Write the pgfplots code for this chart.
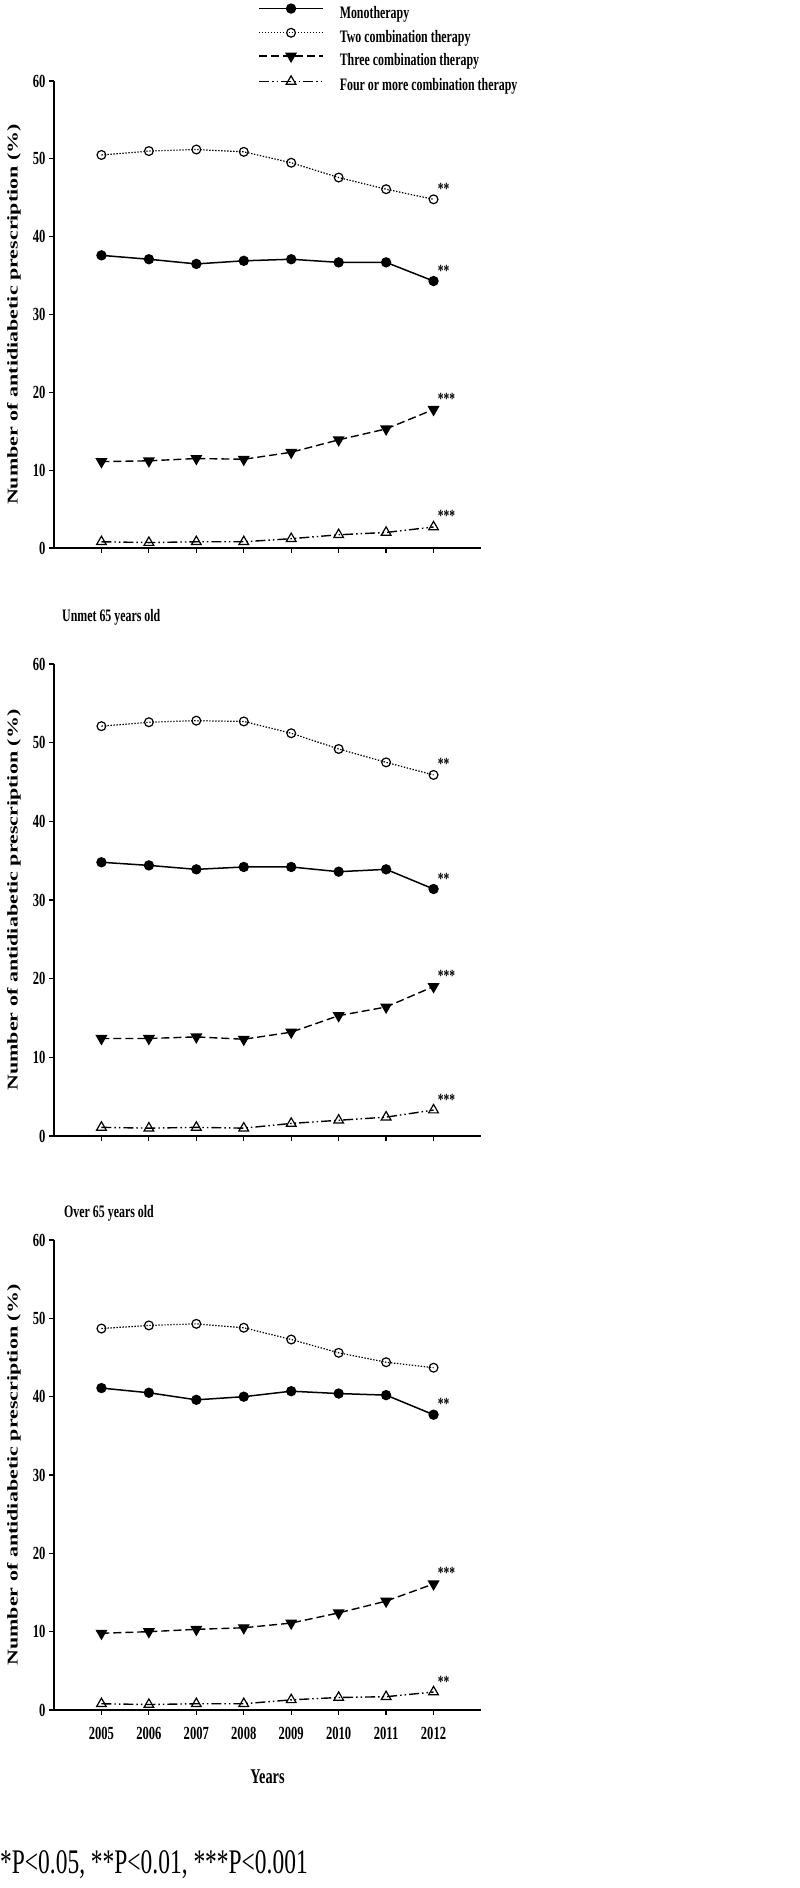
\documentclass[border=0pt]{standalone}
\usepackage{fontspec}
\setmainfont{Liberation Serif}[FakeStretch=0.68]
\newfontfamily\ylabfont{Liberation Serif}
\usepackage{pgfplots}
\pgfplotsset{compat=1.18}

\tikzset{sigstar/.style={anchor=base west, font=\fontsize{17}{17}\selectfont\bfseries, inner sep=0pt, xshift=4pt, yshift=5pt}}

\pgfplotsset{
  panel/.style={
    scale only axis, width=427pt,
    xmin=2004, xmax=2013, ymin=0, ymax=60,
    axis lines=left, axis line style={line width=1.3pt, -},
    xtick={2005,...,2012}, ytick={0,10,...,60},
    tick align=outside, major tick length=5pt,
    tick style={line width=1.2pt, black},
    /pgf/number format/assume math mode=true,
    /pgf/number format/1000 sep={},
    yticklabel style={font=\fontsize{18.5}{18.5}\selectfont\bfseries},
    xticklabel style={font=\fontsize{18.5}{18.5}\selectfont\bfseries, yshift=-9pt},
    ylabel={\scalebox{1}[0.68]{Number of antidiabetic prescription (\%)}},
    ylabel style={font=\ylabfont\bfseries\fontsize{22}{22}\selectfont,
      at={(axis description cs:-0.094,0.5)}, anchor=center},
    clip=false,
  },
  mono/.style={black, line width=1.5pt, solid, mark=*, mark size=4.4pt,
    mark options={solid, fill=black}},
  two/.style={black, line width=1.2pt, dash pattern=on 1.4pt off 1.6pt, mark=o, mark size=4.4pt,
    mark options={solid, fill=white, line width=1.2pt}},
  three/.style={black, line width=1.4pt, dash pattern=on 8pt off 4pt, mark=triangle*, mark size=5.6pt,
    mark options={solid, fill=black, rotate=180}},
  four/.style={black, line width=1.4pt, dash pattern=on 10pt off 3pt on 1.5pt off 3pt on 1.5pt off 3pt,
    mark=triangle, mark size=5.6pt, mark options={solid, fill=white, line width=1.2pt}},
}

\begin{document}
\begin{tikzpicture}
\path[use as bounding box] (0pt,-1888pt) rectangle (800pt,0pt);

% ---------- Panel 1 ----------
\begin{axis}[panel, at={(54pt,-548pt)}, anchor=south west, height=467pt,
  xticklabels={},
  legend style={at={(axis description cs:0.478,1.165)}, anchor=north west,
    draw=none, fill=none, inner sep=0pt, row sep=6.3pt,
    font=\fontsize{17.5}{17.5}\selectfont\bfseries,
    nodes={inner sep=0pt, text height=13pt, text depth=4pt},
    /tikz/every odd column/.append style={column sep=16pt}},
  legend cell align=left,
  legend image code/.code={\draw[mark repeat=2, mark phase=2] plot coordinates {(0pt,5pt) (32pt,5pt) (64pt,5pt)};},
]
\addplot[mono] coordinates {(2005,37.6) (2006,37.1) (2007,36.5) (2008,36.9) (2009,37.1) (2010,36.7) (2011,36.7) (2012,34.3)};
\addlegendentry{Monotherapy}
\addplot[two] coordinates {(2005,50.5) (2006,51.0) (2007,51.2) (2008,50.9) (2009,49.5) (2010,47.6) (2011,46.1) (2012,44.8)};
\addlegendentry{Two combination therapy}
\addplot[three] coordinates {(2005,11.1) (2006,11.2) (2007,11.5) (2008,11.4) (2009,12.3) (2010,13.9) (2011,15.3) (2012,17.8)};
\addlegendentry{Three combination therapy}
\addplot[four] coordinates {(2005,0.8) (2006,0.7) (2007,0.8) (2008,0.8) (2009,1.2) (2010,1.7) (2011,2.0) (2012,2.7)};
\addlegendentry{Four or more combination therapy}
\node[sigstar] at (axis cs:2012,44.8) {**};
\node[sigstar] at (axis cs:2012,34.3) {**};
\node[sigstar] at (axis cs:2012,17.8) {***};
\node[sigstar] at (axis cs:2012,2.7) {***};
\end{axis}

% ---------- Panel 2 ----------
\begin{axis}[panel, at={(54pt,-1136pt)}, anchor=south west, height=472pt,
  xticklabels={}]
\addplot[mono] coordinates {(2005,34.8) (2006,34.4) (2007,33.9) (2008,34.2) (2009,34.2) (2010,33.6) (2011,33.9) (2012,31.4)};
\addplot[two] coordinates {(2005,52.1) (2006,52.6) (2007,52.8) (2008,52.7) (2009,51.2) (2010,49.2) (2011,47.5) (2012,45.9)};
\addplot[three] coordinates {(2005,12.4) (2006,12.4) (2007,12.6) (2008,12.3) (2009,13.2) (2010,15.3) (2011,16.4) (2012,19.0)};
\addplot[four] coordinates {(2005,1.1) (2006,1.0) (2007,1.1) (2008,1.0) (2009,1.6) (2010,2.0) (2011,2.4) (2012,3.3)};
\node[sigstar] at (axis cs:2012,45.9) {**};
\node[sigstar] at (axis cs:2012,31.4) {**};
\node[sigstar] at (axis cs:2012,19.0) {***};
\node[sigstar] at (axis cs:2012,3.3) {***};
\end{axis}

% ---------- Panel 3 ----------
\begin{axis}[panel, at={(54pt,-1710pt)}, anchor=south west, height=470pt,
  xlabel={Years},
  xlabel style={font=\fontsize{21}{21}\selectfont\bfseries, at={(axis description cs:0.5,-0.1426)}, anchor=center}]
\addplot[mono] coordinates {(2005,41.1) (2006,40.5) (2007,39.6) (2008,40.0) (2009,40.7) (2010,40.4) (2011,40.2) (2012,37.7)};
\addplot[two] coordinates {(2005,48.7) (2006,49.1) (2007,49.3) (2008,48.8) (2009,47.3) (2010,45.6) (2011,44.4) (2012,43.7)};
\addplot[three] coordinates {(2005,9.8) (2006,10.0) (2007,10.3) (2008,10.5) (2009,11.1) (2010,12.4) (2011,13.9) (2012,16.1)};
\addplot[four] coordinates {(2005,0.8) (2006,0.7) (2007,0.8) (2008,0.8) (2009,1.3) (2010,1.6) (2011,1.7) (2012,2.3)};
\node[sigstar] at (axis cs:2012,37.7) {**};
\node[sigstar] at (axis cs:2012,16.1) {***};
\node[sigstar] at (axis cs:2012,2.3) {**};
\end{axis}

% panel titles and footnote
\node[anchor=west, inner sep=0pt, font=\fontsize{17.5}{17.5}\selectfont\bfseries] at (62pt,-617pt) {Unmet 65 years old};
\node[anchor=west, inner sep=0pt, font=\fontsize{17.5}{17.5}\selectfont\bfseries] at (64pt,-1213pt) {Over 65 years old};
\node[anchor=base west, inner sep=0pt, font=\fontsize{34.5}{34.5}\selectfont] at (0pt,-1873pt) {*P<0.05, **P<0.01, ***P<0.001};
\end{tikzpicture}
\end{document}
